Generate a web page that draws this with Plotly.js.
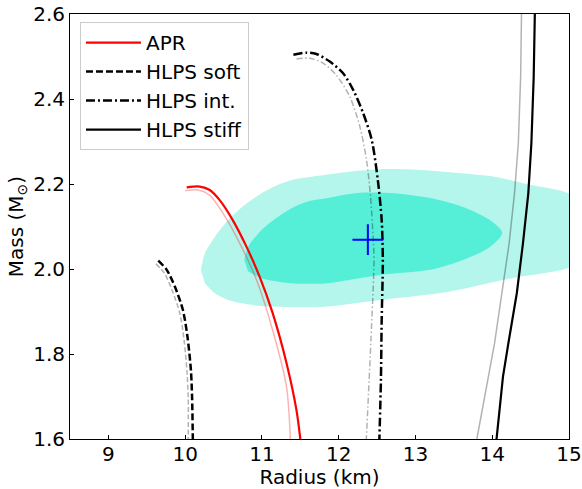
<!DOCTYPE html>
<html>
<head>
<meta charset="utf-8">
<script src="https://cdn.plot.ly/plotly-3.0.1.min.js"></script>
<style>html,body{margin:0;padding:0;background:#fff;}</style>
</head>
<body>
<div id="chart" style="width:582px;height:489px;"></div>
<script>
// ---- data (radius in km, mass in solar masses) ----
const outerR = [10.206, 10.258, 10.388, 10.561, 10.779, 10.996, 11.212, 11.43, 11.647, 11.82, 12.237, 12.536, 12.966, 13.41, 14.06, 14.49, 14.98, 15.3, 15.45, 15.3, 14.98, 14.27, 13.41, 12.536, 11.82, 11.43, 10.996, 10.779, 10.561, 10.388, 10.258];
const outerM = [1.998, 2.037, 2.076, 2.115, 2.151, 2.178, 2.198, 2.211, 2.217, 2.221, 2.231, 2.235, 2.234, 2.228, 2.216, 2.198, 2.179, 2.14, 2.09, 2.035, 2.002, 1.979, 1.946, 1.927, 1.911, 1.910, 1.913, 1.918, 1.927, 1.943, 1.966];

const innerR = [10.77, 10.82, 10.996, 11.212, 11.43, 11.647, 11.82, 12.237, 12.667, 13.19, 13.62, 13.97, 14.13, 13.97, 13.62, 13.19, 12.536, 11.82, 11.43, 11.212, 10.996, 10.82];
const innerM = [2.021, 2.052, 2.092, 2.123, 2.147, 2.161, 2.166, 2.179, 2.179, 2.167, 2.146, 2.115, 2.085, 2.052, 2.021, 1.998, 1.986, 1.966, 1.966, 1.970, 1.978, 1.994];

const aprR = [10.02, 10.19, 10.32, 10.45, 10.62, 10.80, 10.97, 11.14, 11.32, 11.45, 11.50];
const aprM = [2.192, 2.194, 2.186, 2.162, 2.115, 2.052, 1.982, 1.896, 1.779, 1.668, 1.60];
const aprLightR = [10.00, 10.17, 10.32, 10.49, 10.71, 10.93, 11.14, 11.32, 11.37];
const aprLightM = [2.184, 2.186, 2.174, 2.132, 2.061, 1.974, 1.856, 1.723, 1.60];

const softR = [9.65, 9.76, 9.867, 9.97, 10.03, 10.075, 10.09, 10.10];
const softM = [2.0195, 1.998, 1.958, 1.904, 1.841, 1.762, 1.70, 1.60];
const softLightR = [9.62, 9.73, 9.83, 9.93, 9.985, 10.025, 10.04, 10.04];
const softLightM = [2.012, 1.99, 1.95, 1.896, 1.834, 1.756, 1.694, 1.60];

const intR = [11.41, 11.58, 11.71, 11.885, 12.06, 12.19, 12.32, 12.43, 12.51, 12.56, 12.575, 12.56, 12.55, 12.53];
const intM = [2.504, 2.509, 2.506, 2.488, 2.46, 2.421, 2.366, 2.304, 2.209, 2.115, 2.021, 1.88, 1.739, 1.60];
const intLightR = [11.45, 11.625, 11.80, 11.97, 12.146, 12.276, 12.363, 12.415, 12.45, 12.46, 12.42, 12.36];
const intLightM = [2.494, 2.496, 2.484, 2.456, 2.405, 2.335, 2.256, 2.170, 2.068, 2.021, 1.833, 1.60];

const stiffR = [14.56, 14.555, 14.54, 14.51, 14.47, 14.40, 14.32, 14.21, 14.14, 14.056];
const stiffM = [2.65, 2.60, 2.452, 2.296, 2.178, 2.06, 1.943, 1.825, 1.747, 1.60];
const stiffLightR = [14.385, 14.38, 14.37, 14.34, 14.29, 14.22, 14.13, 14.03, 13.80];
const stiffLightM = [2.65, 2.60, 2.452, 2.296, 2.178, 2.06, 1.943, 1.825, 1.60];

const pointR = [12.38];
const pointM = [2.069];

const seriesNames = ['APR', 'HLPS soft', 'HLPS int.', 'HLPS stiff'];
const xTicks = [9, 10, 11, 12, 13, 14, 15];
const yTicks = [1.6, 1.8, 2.0, 2.2, 2.4, 2.6];

// ---- traces ----
const FONT = 'DejaVu Sans, Liberation Sans, sans-serif';
const FS = 20;
const grayC = 'rgba(0,0,0,0.3)';
const traces = [
  {x: outerR, y: outerM, type: 'scatter', mode: 'lines', fill: 'toself',
   fillcolor: '#b4f5ec', line: {width: 0, shape: 'spline', smoothing: 0.8, color: 'rgba(0,0,0,0)'}, showlegend: false, hoverinfo: 'skip'},
  {x: innerR, y: innerM, type: 'scatter', mode: 'lines', fill: 'toself',
   fillcolor: '#55efd8', line: {width: 0, shape: 'spline', smoothing: 0.8, color: 'rgba(0,0,0,0)'}, showlegend: false, hoverinfo: 'skip'},
  {x: aprLightR, y: aprLightM, type: 'scatter', mode: 'lines',
   line: {color: 'rgba(255,0,0,0.3)', width: 1.5, shape: 'spline', smoothing: 0.8}, showlegend: false},
  {x: softLightR, y: softLightM, type: 'scatter', mode: 'lines',
   line: {color: grayC, width: 1.5, dash: '5px,2.5px', shape: 'spline', smoothing: 0.8}, showlegend: false},
  {x: intLightR, y: intLightM, type: 'scatter', mode: 'lines',
   line: {color: grayC, width: 1.5, dash: '6px,2.5px,1.5px,2.5px', shape: 'spline', smoothing: 0.8}, showlegend: false},
  {x: stiffLightR, y: stiffLightM, type: 'scatter', mode: 'lines',
   line: {color: grayC, width: 1.5, shape: 'linear'}, showlegend: false},
  {x: aprR, y: aprM, type: 'scatter', mode: 'lines', name: seriesNames[0],
   line: {color: 'red', width: 2.2, shape: 'spline', smoothing: 0.8}},
  {x: softR, y: softM, type: 'scatter', mode: 'lines', name: seriesNames[1],
   line: {color: 'black', width: 2.5, dash: '7px,3px', shape: 'spline', smoothing: 0.8}},
  {x: intR, y: intM, type: 'scatter', mode: 'lines', name: seriesNames[2],
   line: {color: 'black', width: 2.5, dash: '9px,3px,2px,3px', shape: 'spline', smoothing: 0.8}},
  {x: stiffR, y: stiffM, type: 'scatter', mode: 'lines', name: seriesNames[3],
   line: {color: 'black', width: 2.2, shape: 'linear'}},
  {x: pointR, y: pointM, type: 'scatter', mode: 'markers', showlegend: false,
   marker: {symbol: 'cross-thin-open', size: 22, color: 'blue', line: {color: 'blue', width: 2}}}
];

const axisCommon = {
  ticks: 'inside', ticklen: 4, tickwidth: 1, tickcolor: 'black',
  showline: true, mirror: true, linecolor: 'black', linewidth: 1,
  showgrid: false, zeroline: false,
  tickfont: {family: FONT, size: FS, color: 'black'}
};

const layout = {
  width: 582, height: 489,
  margin: {l: 70, r: 13, t: 14, b: 50, pad: 0},
  paper_bgcolor: 'white', plot_bgcolor: 'white',
  font: {family: FONT, size: FS, color: 'black'},
  xaxis: Object.assign({}, axisCommon, {
    range: [8.5, 15], tickvals: xTicks, automargin: false, ticklabelstandoff: -3,
    title: {text: 'Radius (km)', font: {family: FONT, size: FS, color: 'black'}, standoff: 3}
  }),
  yaxis: Object.assign({}, axisCommon, {
    range: [1.6, 2.6], tickvals: yTicks, tickformat: '.1f', automargin: false,
    title: {text: 'Mass (M<sub>⊙</sub>)', font: {family: FONT, size: FS, color: 'black'}, standoff: 4}
  }),
  legend: {
    x: 0.02, y: 0.981, xanchor: 'left', yanchor: 'top',
    bgcolor: 'white', bordercolor: '#cccccc', borderwidth: 1,
    font: {family: FONT, size: FS, color: 'black'},
    tracegroupgap: 0, itemwidth: 55
  },
  showlegend: true
};

Plotly.newPlot('chart', traces, layout, {displayModeBar: false, staticPlot: true});
</script>
</body>
</html>
